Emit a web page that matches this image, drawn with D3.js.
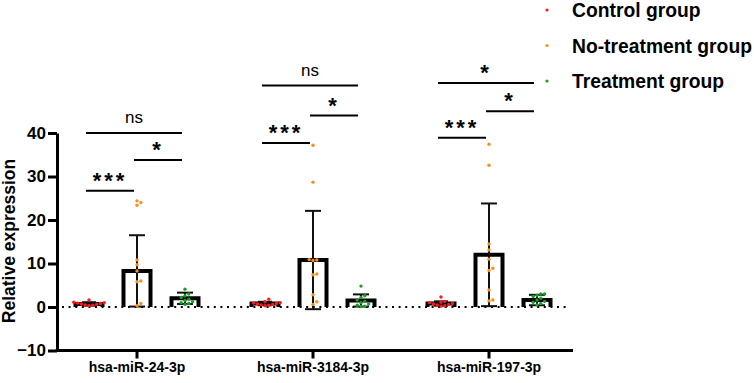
<!DOCTYPE html>
<html>
<head>
<meta charset="utf-8">
<script src="https://cdn.jsdelivr.net/npm/d3@7"></script>
<style>
  body { margin: 0; background: #fff; }
  text { font-family: "Liberation Sans", Arial, sans-serif; }
</style>
</head>
<body>
<div id="chart"></div>
<script>
// categories and groups
const genes = ["hsa-miR-24-3p", "hsa-miR-3184-3p", "hsa-miR-197-3p"]
const groups = ["Control group", "No-treatment group", "Treatment group"]
const colors = ["#ff1a1a", "#ff8c1a", "#1c9c2a"]
const yTicks = [-10, 0, 10, 20, 30, 40]

// bar means and SD, one array per group (order follows genes)
const controlMean = [0.7, 0.8, 0.8]
const controlSD = [0.4, 0.4, 0.5]
const noTreatMean = [8.3, 10.8, 12.0]
const noTreatSD = [8.2, 11.3, 11.8]
const treatMean = [2.0, 1.5, 1.6]
const treatSD = [1.3, 1.4, 1.2]

// individual samples
const controlPoints = [
  [0.3, 0.4, 0.5, 0.6, 0.7, 0.8, 0.9, 1.0, 1.1, 1.6],
  [0.3, 0.4, 0.5, 0.6, 0.7, 0.8, 0.9, 1.0, 1.2, 1.8],
  [0.2, 0.3, 0.5, 0.6, 0.7, 0.8, 1.0, 1.1, 1.3, 2.3]
]
const noTreatPoints = [
  [24.4, 24.0, 23.4, 10.8, 9.7, 8.3, 6.0, 5.8, 0.8, 0.3],
  [37.2, 28.7, 10.9, 10.8, 10.7, 7.6, 7.4, 2.8, 1.2, 0.6],
  [37.4, 32.6, 14.5, 13.1, 11.0, 8.9, 8.4, 3.9, 1.6, 1.4]
]
const treatPoints = [
  [4.1, 3.0, 2.6, 2.2, 1.8, 1.5, 1.2, 1.0, 0.8, 0.6],
  [4.8, 2.6, 2.2, 1.6, 1.3, 1.0, 0.7, 0.4, 0.2, 0.1],
  [3.0, 3.0, 2.7, 2.4, 2.0, 1.6, 1.3, 1.1, 0.8, 0.5]
]

// significance brackets: gene index, from group, to group, y value, label
const sigGene = [0, 0, 0, 1, 1, 1, 2, 2, 2]
const sigFrom = [0, 1, 0, 0, 1, 0, 0, 1, 0]
const sigTo = [1, 2, 2, 1, 2, 2, 1, 2, 2]
const sigY = [26.7, 33.8, 40.0, 37.7, 44.0, 50.9, 38.9, 45.0, 51.5]
const sigLabel = ["***", "*", "ns", "***", "*", "ns", "***", "*", "*"]

const means = [controlMean, noTreatMean, treatMean]
const sds = [controlSD, noTreatSD, treatSD]
const points = [controlPoints, noTreatPoints, treatPoints]

const width = 754, height = 383

const svg = d3.select("#chart")
  .append("svg")
    .attr("width", width)
    .attr("height", height)

const y = d3.scaleLinear()
  .domain([-10, 40])
  .range([350.5, 133])

const x = d3.scaleBand()
  .domain(genes)
  .range([49, 577])

const sub = d3.scalePoint()
  .domain(groups)
  .range([-48, 48])

const cx = (g, k) => x(g) + x.bandwidth() / 2 + sub(groups[k])

const barW = 27

// dotted zero line
svg.append("line")
  .attr("x1", 62)
  .attr("x2", 568)
  .attr("y1", y(0))
  .attr("y2", y(0))
  .attr("stroke", "#000")
  .attr("stroke-width", 2)
  .attr("stroke-dasharray", "2,4.6")

// bars (open at the bottom)
genes.forEach((g, i) => {
  groups.forEach((grp, k) => {
    const c = cx(g, k)
    const m = means[k][i]
    svg.append("path")
      .attr("d", `M${c - barW / 2},${y(0)}V${y(m)}H${c + barW / 2}V${y(0)}`)
      .attr("fill", "none")
      .attr("stroke", "#000")
      .attr("stroke-width", 4)
  })
})

// error bars
genes.forEach((g, i) => {
  groups.forEach((grp, k) => {
    const c = cx(g, k)
    const m = means[k][i], s = sds[k][i]
    const cap = k === 0 ? 14 : 16
    const eb = svg.append("g")
      .attr("stroke", "#111")
      .attr("stroke-width", 2)
    eb.append("line")
      .attr("x1", c).attr("x2", c)
      .attr("y1", y(m - s)).attr("y2", y(m + s))
    ;[m - s, m + s].forEach(v => {
      eb.append("line")
        .attr("x1", c - cap / 2).attr("x2", c + cap / 2)
        .attr("y1", y(v)).attr("y2", y(v))
    })
  })
})

// points, spread sideways so they don't overlap
const r = 1.7, gap = 3.8
genes.forEach((g, i) => {
  groups.forEach((grp, k) => {
    const c = cx(g, k)
    const placed = []
    points[k][i].slice().sort((a, b) => a - b).forEach(v => {
      const py = y(v)
      let step = 0, px = c
      while (true) {
        const off = step === 0 ? 0 : Math.ceil(step / 2) * gap * (step % 2 ? 1 : -1)
        px = c + off
        if (!placed.some(p => Math.hypot(p[0] - px, p[1] - py) < gap)) break
        step++
      }
      placed.push([px, py])
      svg.append("circle")
        .attr("cx", px)
        .attr("cy", py)
        .attr("r", r)
        .attr("fill", colors[k])
    })
  })
})

// y axis
const yAxis = svg.append("g")
  .attr("transform", "translate(57,0)")
  .call(d3.axisLeft(y).tickValues(yTicks).tickSize(9).tickSizeOuter(0).tickPadding(2))
yAxis.selectAll("path, line")
  .attr("stroke", "#000")
  .attr("stroke-width", 3)
yAxis.selectAll("text")
  .attr("font-size", 17)
  .attr("font-weight", "bold")
  .attr("fill", "#000")
  .style("font-family", "'Liberation Sans', Arial, sans-serif")

// x axis
const xAxis = svg.append("g")
  .attr("transform", `translate(0,${y(-10)})`)
  .call(d3.axisBottom(x).tickSize(8).tickPadding(4))
xAxis.select(".domain").remove()
xAxis.append("line")
  .attr("x1", 57 - 1.5)
  .attr("x2", 573)
  .attr("stroke", "#000")
  .attr("stroke-width", 3)
xAxis.selectAll(".tick line")
  .attr("stroke", "#000")
  .attr("stroke-width", 3)
xAxis.selectAll("text")
  .attr("font-size", 14)
  .attr("font-weight", "bold")
  .attr("fill", "#000")
  .style("font-family", "'Liberation Sans', Arial, sans-serif")

// y axis title
svg.append("text")
  .attr("transform", "translate(15,241) rotate(-90)")
  .attr("text-anchor", "middle")
  .attr("font-size", 17.5)
  .attr("font-weight", "bold")
  .text("Relative expression")

// significance brackets
sigLabel.forEach((lab, j) => {
  const g = genes[sigGene[j]]
  const x1 = cx(g, sigFrom[j]) - 3
  const x2 = cx(g, sigTo[j]) - 3
  const ly = y(sigY[j])
  svg.append("line")
    .attr("x1", x1).attr("x2", x2)
    .attr("y1", ly).attr("y2", ly)
    .attr("stroke", "#000")
    .attr("stroke-width", 2)
  const isNs = lab === "ns"
  svg.append("text")
    .attr("x", (x1 + x2) / 2)
    .attr("y", isNs ? ly - 10 : ly - 3)
    .attr("text-anchor", "middle")
    .attr("font-size", isNs ? 17 : 22)
    .attr("font-weight", isNs ? "normal" : "bold")
    .attr("letter-spacing", isNs ? 0 : 3)
    .text(lab)
})

// legend
const legend = svg.append("g")
  .attr("transform", "translate(547,10)")
groups.forEach((grp, k) => {
  const row = legend.append("g")
    .attr("transform", `translate(0,${k * 35.5})`)
  row.append("circle")
    .attr("r", 1.6)
    .attr("fill", colors[k])
  row.append("text")
    .attr("x", 25)
    .attr("y", 7)
    .attr("font-size", 19.3)
    .attr("font-weight", "bold")
    .text(grp)
})
</script>
</body>
</html>
